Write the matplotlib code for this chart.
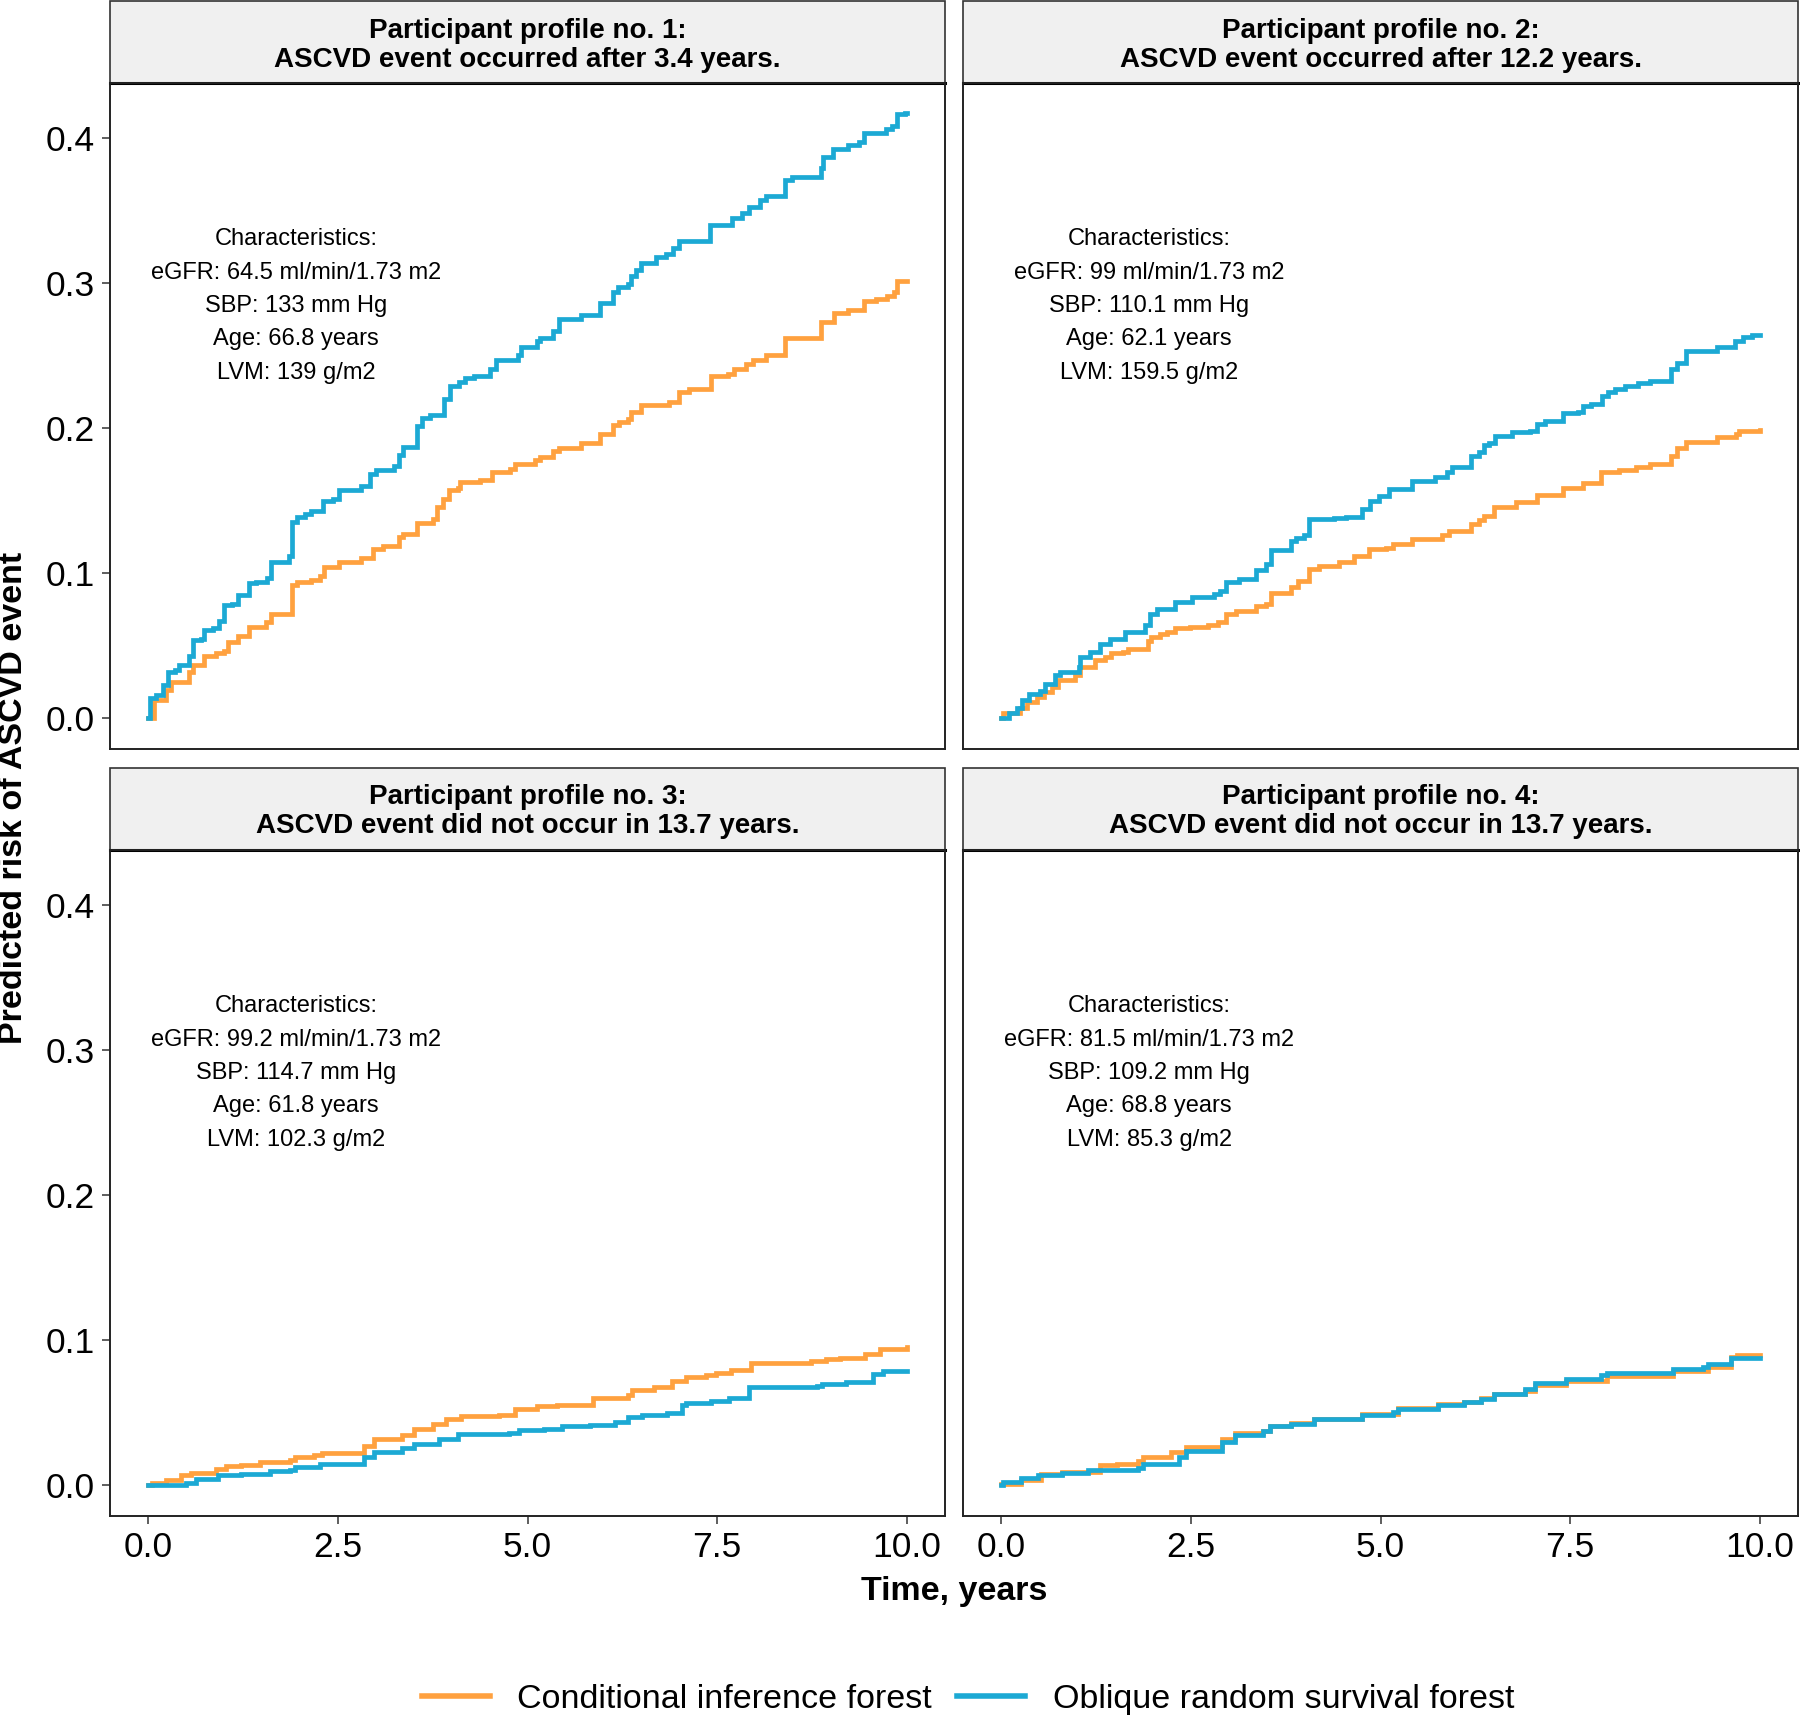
import matplotlib
matplotlib.use("Agg")
import matplotlib.pyplot as plt
from matplotlib.patches import Rectangle

plt.rcParams['font.family'] = ['Liberation Sans', 'DejaVu Sans']

# step points (time in years, predicted risk)
p1_cif = [(0, 0), (0.08, 0.0126), (0.24, 0.0195), (0.30, 0.025), (0.54, 0.032), (0.59, 0.0367),
          (0.74, 0.043), (0.89, 0.045), (1.00, 0.0465), (1.05, 0.0527), (1.18, 0.057), (1.33, 0.063),
          (1.55, 0.0665), (1.62, 0.072), (1.90, 0.0916), (1.96, 0.094), (2.14, 0.0955), (2.27, 0.098),
          (2.32, 0.104), (2.51, 0.1076), (2.81, 0.1103), (2.97, 0.117), (3.10, 0.119), (3.30, 0.1248),
          (3.36, 0.127), (3.54, 0.1347), (3.76, 0.1375), (3.81, 0.1455), (3.88, 0.151), (3.96, 0.157),
          (4.09, 0.159), (4.11, 0.1627), (4.38, 0.164), (4.53, 0.170), (4.77, 0.172), (4.84, 0.175),
          (5.10, 0.178), (5.16, 0.180), (5.34, 0.184), (5.42, 0.186), (5.71, 0.190), (5.95, 0.196),
          (6.13, 0.202), (6.21, 0.204), (6.32, 0.206), (6.37, 0.211), (6.50, 0.216), (6.87, 0.218),
          (7.00, 0.2245), (7.13, 0.227), (7.42, 0.236), (7.64, 0.237), (7.72, 0.241), (7.88, 0.244),
          (7.97, 0.247), (8.14, 0.250), (8.39, 0.2617), (8.87, 0.273), (9.04, 0.2795), (9.23, 0.281),
          (9.43, 0.2875), (9.59, 0.289), (9.74, 0.291), (9.83, 0.294), (9.87, 0.301), (10.0, 0.301)]
p1_orsf = [(0, 0), (0.03, 0.0137), (0.10, 0.016), (0.19, 0.023), (0.26, 0.032), (0.36, 0.033),
           (0.41, 0.0367), (0.54, 0.043), (0.59, 0.054), (0.70, 0.055), (0.74, 0.061), (0.85, 0.0625),
           (0.94, 0.067), (1.00, 0.078), (1.11, 0.079), (1.18, 0.085), (1.33, 0.093), (1.42, 0.094),
           (1.57, 0.097), (1.62, 0.1076), (1.86, 0.112), (1.90, 0.135), (1.96, 0.139), (2.07, 0.141),
           (2.14, 0.143), (2.30, 0.150), (2.43, 0.151), (2.51, 0.1576), (2.81, 0.160), (2.93, 0.168),
           (3.00, 0.171), (3.24, 0.174), (3.30, 0.1815), (3.36, 0.187), (3.54, 0.2016), (3.61, 0.207),
           (3.71, 0.209), (3.90, 0.220), (3.98, 0.2287), (4.10, 0.232), (4.18, 0.2345), (4.30, 0.236),
           (4.51, 0.2404), (4.59, 0.247), (4.87, 0.250), (4.92, 0.2555), (5.12, 0.260), (5.16, 0.262),
           (5.34, 0.267), (5.42, 0.275), (5.71, 0.278), (5.95, 0.286), (6.13, 0.294), (6.19, 0.297),
           (6.32, 0.299), (6.37, 0.305), (6.43, 0.309), (6.50, 0.314), (6.70, 0.318), (6.83, 0.320),
           (6.92, 0.324), (7.00, 0.329), (7.40, 0.340), (7.70, 0.345), (7.83, 0.348), (7.92, 0.352),
           (8.06, 0.357), (8.14, 0.360), (8.39, 0.371), (8.49, 0.373), (8.87, 0.379), (8.89, 0.387),
           (9.02, 0.392), (9.22, 0.395), (9.37, 0.397), (9.43, 0.403), (9.72, 0.406), (9.81, 0.408),
           (9.87, 0.416), (9.98, 0.417), (10.0, 0.417)]

p2_cif = [(0, 0), (0.03, 0.0034), (0.25, 0.0069), (0.34, 0.0115), (0.47, 0.015), (0.56, 0.0183),
          (0.67, 0.0218), (0.75, 0.0263), (0.97, 0.0298), (1.04, 0.0355), (1.24, 0.040), (1.37, 0.042),
          (1.45, 0.0447), (1.60, 0.046), (1.67, 0.0475), (1.94, 0.053), (1.98, 0.056), (2.09, 0.058),
          (2.18, 0.0596), (2.29, 0.062), (2.49, 0.063), (2.73, 0.064), (2.86, 0.0664), (2.97, 0.072),
          (3.10, 0.074), (3.36, 0.0776), (3.49, 0.079), (3.56, 0.0866), (3.82, 0.0905), (3.91, 0.0944),
          (4.06, 0.103), (4.19, 0.105), (4.45, 0.108), (4.65, 0.112), (4.85, 0.1165), (5.07, 0.1175),
          (5.16, 0.1203), (5.42, 0.1237), (5.81, 0.126), (5.90, 0.129), (6.19, 0.134), (6.30, 0.1367),
          (6.36, 0.1397), (6.49, 0.1455), (6.78, 0.149), (7.06, 0.154), (7.41, 0.1585), (7.67, 0.162),
          (7.91, 0.1695), (8.15, 0.171), (8.37, 0.173), (8.55, 0.1753), (8.83, 0.181), (8.91, 0.186),
          (9.03, 0.1906), (9.43, 0.1936), (9.69, 0.1959), (9.73, 0.198), (10.0, 0.1985)]
p2_orsf = [(0, 0), (0.10, 0.0034), (0.21, 0.0069), (0.27, 0.0126), (0.37, 0.0165), (0.51, 0.0188),
           (0.58, 0.024), (0.71, 0.030), (0.78, 0.032), (1.02, 0.0355), (1.04, 0.0424), (1.17, 0.0458),
           (1.30, 0.0515), (1.43, 0.055), (1.63, 0.0596), (1.89, 0.064), (1.96, 0.072), (2.05, 0.075),
           (2.29, 0.080), (2.51, 0.0836), (2.81, 0.086), (2.88, 0.088), (2.97, 0.094), (3.14, 0.096),
           (3.36, 0.102), (3.49, 0.1065), (3.56, 0.1157), (3.82, 0.1225), (3.88, 0.1245), (3.99, 0.126),
           (4.06, 0.137), (4.39, 0.1377), (4.55, 0.139), (4.75, 0.1445), (4.86, 0.1495), (4.98, 0.1535),
           (5.11, 0.158), (5.42, 0.1638), (5.72, 0.166), (5.88, 0.1695), (5.94, 0.173), (6.19, 0.181),
           (6.30, 0.1833), (6.36, 0.188), (6.43, 0.190), (6.51, 0.1947), (6.73, 0.197), (6.97, 0.198),
           (7.06, 0.2027), (7.17, 0.205), (7.41, 0.2103), (7.60, 0.2113), (7.67, 0.215), (7.78, 0.2165),
           (7.92, 0.2222), (8.00, 0.2245), (8.09, 0.2268), (8.22, 0.2292), (8.40, 0.2311), (8.55, 0.2325),
           (8.83, 0.2405), (8.91, 0.245), (9.03, 0.253), (9.43, 0.256), (9.67, 0.260), (9.78, 0.263),
           (9.89, 0.264), (10.0, 0.264)]

p3_cif = [(0, 0), (0.05, 0.0018), (0.235, 0.0034), (0.43, 0.0069), (0.56, 0.0087), (0.89, 0.011),
          (1.02, 0.0133), (1.22, 0.0142), (1.48, 0.016), (1.87, 0.017), (1.93, 0.0195), (2.19, 0.021),
          (2.29, 0.0225), (2.85, 0.027), (2.98, 0.032), (3.34, 0.0344), (3.50, 0.039), (3.76, 0.0424),
          (3.93, 0.0458), (4.13, 0.0477), (4.62, 0.0485), (4.84, 0.0527), (5.13, 0.0543), (5.39, 0.0555),
          (5.86, 0.060), (6.32, 0.0623), (6.38, 0.0653), (6.67, 0.0676), (6.90, 0.0715), (7.09, 0.0745),
          (7.35, 0.0756), (7.48, 0.0775), (7.68, 0.079), (7.95, 0.0843), (8.73, 0.0852), (8.93, 0.0866),
          (9.12, 0.0875), (9.45, 0.0905), (9.65, 0.094), (10.0, 0.0951)]
p3_orsf = [(0, 0), (0.50, 0.0018), (0.63, 0.004), (0.92, 0.0069), (1.22, 0.008), (1.61, 0.0096),
           (1.87, 0.0103), (1.93, 0.0126), (2.26, 0.0149), (2.85, 0.0195), (2.98, 0.023), (3.34, 0.0257),
           (3.50, 0.0287), (3.83, 0.032), (4.09, 0.0355), (4.76, 0.036), (4.89, 0.0378), (5.22, 0.039),
           (5.46, 0.0408), (5.82, 0.0417), (6.15, 0.0435), (6.32, 0.047), (6.51, 0.0485), (6.84, 0.050),
           (7.03, 0.055), (7.09, 0.0568), (7.42, 0.0577), (7.65, 0.060), (7.92, 0.0676), (8.81, 0.0684),
           (8.88, 0.0699), (9.20, 0.071), (9.55, 0.0768), (9.68, 0.0784), (10.0, 0.0784)]

p4_cif = [(0, 0.001), (0.26, 0.0034), (0.52, 0.0075), (0.80, 0.0094), (1.30, 0.0137), (1.53, 0.0149),
          (1.81, 0.0165), (1.87, 0.0195), (2.24, 0.023), (2.44, 0.026), (2.91, 0.032), (3.08, 0.0357),
          (3.45, 0.0375), (3.55, 0.041), (3.82, 0.0428), (4.12, 0.0456), (4.76, 0.049), (5.23, 0.053),
          (5.76, 0.0557), (6.10, 0.0575), (6.33, 0.0598), (6.50, 0.0628), (6.90, 0.065), (7.04, 0.069),
          (7.44, 0.0715), (7.98, 0.0755), (8.85, 0.0785), (9.32, 0.0815), (9.62, 0.088), (9.70, 0.0898),
          (10.0, 0.0898)]
p4_orsf = [(0, 0), (0.02, 0.0023), (0.26, 0.0046), (0.49, 0.0069), (0.80, 0.0087), (1.14, 0.0103),
           (1.81, 0.012), (1.87, 0.0149), (2.34, 0.0195), (2.44, 0.0234), (2.91, 0.0298), (3.08, 0.0348),
           (3.45, 0.0371), (3.55, 0.0408), (3.82, 0.0424), (4.12, 0.0454), (4.76, 0.0486), (5.16, 0.0505),
           (5.23, 0.0527), (5.76, 0.0555), (6.10, 0.0573), (6.33, 0.0596), (6.50, 0.063), (6.90, 0.0665),
           (7.04, 0.0706), (7.44, 0.0733), (7.91, 0.076), (7.98, 0.0775), (8.85, 0.080), (9.25, 0.0814),
           (9.32, 0.0836), (9.62, 0.0876), (10.0, 0.0876)]

titles = ["Participant profile no. 1:\nASCVD event occurred after 3.4 years.",
          "Participant profile no. 2:\nASCVD event occurred after 12.2 years.",
          "Participant profile no. 3:\nASCVD event did not occur in 13.7 years.",
          "Participant profile no. 4:\nASCVD event did not occur in 13.7 years."]
notes = ["Characteristics:\neGFR: 64.5 ml/min/1.73 m2\nSBP: 133 mm Hg\nAge: 66.8 years\nLVM: 139 g/m2",
         "Characteristics:\neGFR: 99 ml/min/1.73 m2\nSBP: 110.1 mm Hg\nAge: 62.1 years\nLVM: 159.5 g/m2",
         "Characteristics:\neGFR: 99.2 ml/min/1.73 m2\nSBP: 114.7 mm Hg\nAge: 61.8 years\nLVM: 102.3 g/m2",
         "Characteristics:\neGFR: 81.5 ml/min/1.73 m2\nSBP: 109.2 mm Hg\nAge: 68.8 years\nLVM: 85.3 g/m2"]
series = [(p1_cif, p1_orsf), (p2_cif, p2_orsf), (p3_cif, p3_orsf), (p4_cif, p4_orsf)]
labels = ["Conditional inference forest", "Oblique random survival forest"]
colors = ["#FFA13F", "#1CA9D4"]
xticks = [0.0, 2.5, 5.0, 7.5, 10.0]
yticks = [0.0, 0.1, 0.2, 0.3, 0.4]

fig = plt.figure(figsize=(18, 17.19), dpi=100)
W, H = 1800, 1719
lefts = [110.2, 963.2]
tops = [82.7, 849.5]
aw, ah = 834.6, 666.0
strip_h = 82.0 / ah

for i in range(4):
    r, c = divmod(i, 2)
    ax = fig.add_axes([lefts[c] / W, 1 - (tops[r] + ah) / H, aw / W, ah / H])
    cif, orsf = series[i]
    for data, col, lab in [(cif, colors[0], labels[0]), (orsf, colors[1], labels[1])]:
        t = [p[0] for p in data]
        v = [p[1] for p in data]
        ax.plot(t, v, drawstyle='steps-post', color=col, lw=3.4, label=lab,
                solid_joinstyle='miter')
    ax.set_xlim(-0.5, 10.5)
    ax.set_ylim(-0.0209, 0.4379)
    ax.set_xticks(xticks)
    ax.set_yticks(yticks)
    ax.set_xticklabels([f"{x:.1f}" for x in xticks])
    ax.set_yticklabels([f"{y:.1f}" for y in yticks])
    ax.tick_params(length=6, width=1.1, color='#333333', labelsize=25.5, pad=5, labelcolor='black')
    if r == 0:
        ax.tick_params(axis='x', bottom=False, labelbottom=False)
    if c == 1:
        ax.tick_params(axis='y', left=False, labelleft=False)
    for s in ax.spines.values():
        s.set_linewidth(1.4)
        s.set_color('#222222')
    ax.add_patch(Rectangle((0, 1), 1, strip_h, transform=ax.transAxes, clip_on=False,
                           facecolor='#F0F0F0', edgecolor='#333333', lw=1.2, zorder=0))
    ax.plot([0, 1], [1, 1], transform=ax.transAxes, color='black', lw=2.2, clip_on=False)
    ax.text(0.5, 1 + strip_h / 2 - 0.005, titles[i], transform=ax.transAxes, ha='center',
            va='center', fontsize=20, fontweight='bold', linespacing=1.15)
    ax.text(1.95, 0.284, notes[i], ha='center', va='center', fontsize=17, linespacing=1.67)

fig.text(14 / W, 1 - 798 / H, "Predicted risk of ASCVD event", rotation=90, ha='center',
         va='center', fontsize=24.5, fontweight='bold')
fig.text(954 / W, 1 - 1591 / H, "Time, years", ha='center', va='center', fontsize=24.5,
         fontweight='bold')

handles, labs = fig.axes[0].get_legend_handles_labels()
leg = fig.legend(handles, labs, loc='center', bbox_to_anchor=(968 / W, 1 - 1699 / H), ncol=2,
                 frameon=False, fontsize=24.5, handlelength=2.0, handletextpad=0.8,
                 columnspacing=0.75)
for line in leg.get_lines():
    line.set_linewidth(4)

fig.savefig("out.png", dpi=100)
